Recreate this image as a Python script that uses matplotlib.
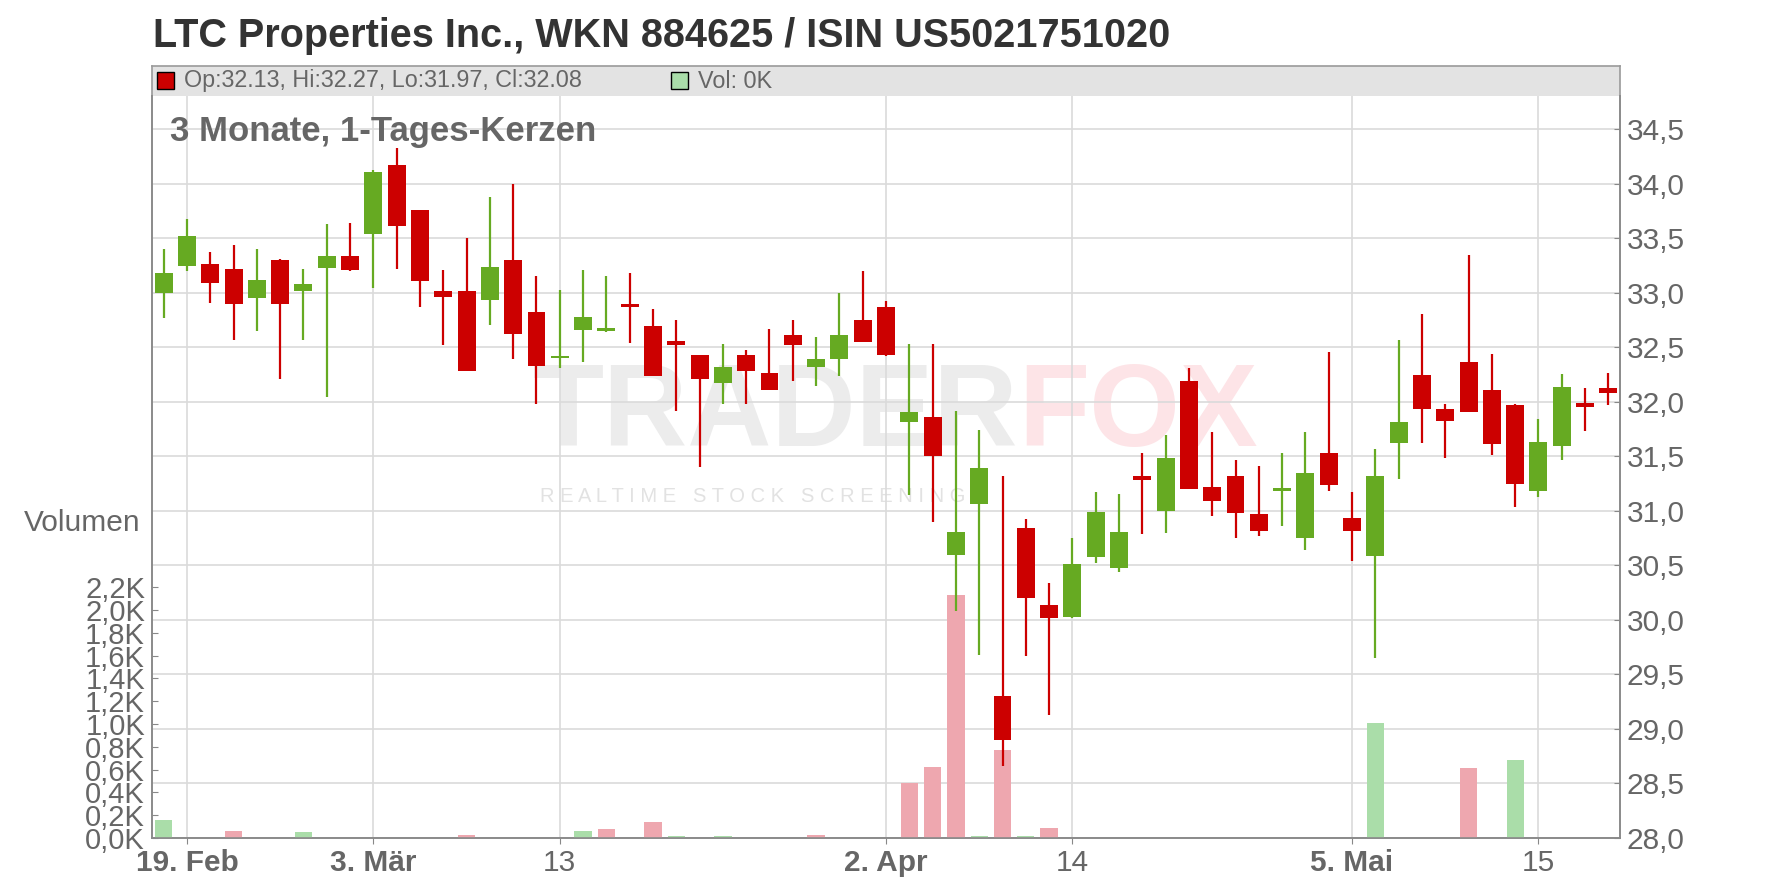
import matplotlib.pyplot as plt
import numpy as np
from matplotlib.patches import Rectangle

plt.rcParams['font.family'] = ['Liberation Sans', 'DejaVu Sans']

# daily candles (EUR), oldest first
opens = [33.00, 33.25, 33.27, 33.22, 32.95, 33.30, 33.02, 33.23, 33.34, 33.54,
         34.17, 33.76, 33.02, 33.02, 32.94, 33.30, 32.83, 32.40, 32.66, 32.65,
         32.89, 32.70, 32.56, 32.43, 32.17, 32.43, 32.27, 32.61, 32.32, 32.39,
         32.75, 32.87, 31.82, 31.86, 30.60, 31.06, 29.30, 30.84, 30.14, 30.03,
         30.58, 30.48, 31.32, 31.00, 32.19, 31.22, 31.32, 30.97, 31.18, 30.75,
         31.53, 30.94, 30.59, 31.62, 32.25, 31.94, 32.37, 32.11, 31.97, 31.18,
         31.60, 31.99, 32.13]
highs = [33.40, 33.68, 33.38, 33.44, 33.40, 33.31, 33.22, 33.63, 33.64, 34.13,
         34.33, 33.76, 33.21, 33.50, 33.88, 34.00, 33.16, 33.03, 33.21, 33.16,
         33.18, 32.85, 32.75, 32.43, 32.53, 32.48, 32.67, 32.75, 32.60, 33.00,
         33.20, 32.93, 32.53, 32.53, 31.92, 31.74, 31.32, 30.93, 30.34, 30.75,
         31.17, 31.16, 31.53, 31.70, 32.31, 31.72, 31.47, 31.41, 31.53, 31.72,
         32.46, 31.17, 31.57, 32.57, 32.81, 31.98, 33.35, 32.44, 31.98, 31.84,
         32.26, 32.13, 32.27]
lows = [32.77, 33.20, 32.91, 32.57, 32.65, 32.21, 32.57, 32.05, 33.20, 33.05,
        33.22, 32.87, 32.52, 32.28, 32.71, 32.39, 31.98, 32.31, 32.37, 32.64,
        32.54, 32.24, 31.92, 31.40, 31.98, 31.98, 32.11, 32.19, 32.15, 32.24,
        32.55, 32.42, 31.15, 30.90, 30.08, 29.68, 28.66, 29.67, 29.13, 30.02,
        30.52, 30.44, 30.79, 30.80, 31.20, 30.95, 30.75, 30.77, 30.86, 30.64,
        31.18, 30.54, 29.65, 31.29, 31.62, 31.49, 31.91, 31.51, 31.04, 31.13,
        31.47, 31.73, 31.97]
closes = [33.18, 33.52, 33.09, 32.90, 33.12, 32.90, 33.08, 33.34, 33.21, 34.11,
          33.61, 33.11, 32.96, 32.28, 33.24, 32.62, 32.33, 32.42, 32.78, 32.68,
          32.87, 32.24, 32.52, 32.21, 32.32, 32.28, 32.11, 32.52, 32.39, 32.61,
          32.55, 32.43, 31.91, 31.50, 30.81, 31.39, 28.90, 30.20, 30.02, 30.51,
          30.99, 30.81, 31.28, 31.49, 31.20, 31.09, 30.98, 30.82, 31.21, 31.35,
          31.24, 30.82, 31.32, 31.82, 31.94, 31.83, 31.91, 31.61, 31.25, 31.63,
          32.14, 31.95, 32.08]

# volume in thousand shares
volume = [0.16, 0, 0, 0.06, 0, 0, 0.05, 0, 0, 0,
          0, 0, 0, 0.03, 0, 0, 0, 0, 0.06, 0.08,
          0, 0.14, 0.02, 0, 0.02, 0, 0, 0, 0.03, 0,
          0, 0, 0.48, 0.62, 2.13, 0.02, 0.77, 0.02, 0.09, 0,
          0, 0, 0, 0, 0, 0, 0, 0, 0, 0,
          0, 0, 1.01, 0, 0, 0, 0.61, 0, 0.68, 0,
          0, 0, 0]
vol_green = [0, 6, 18, 22, 24, 35, 37, 52, 58]

tick_pos = [1, 9, 17, 31, 39, 51, 59]
tick_labels = ['19. Feb', '3. Mär', '13', '2. Apr', '14', '5. Mai', '15']
month_labels = ['19. Feb', '3. Mär', '2. Apr', '5. Mai']
price_ticks = np.arange(28, 34.51, 0.5)
vol_ticks = np.arange(0, 2.21, 0.2)

RED = '#cc0000'
GREEN = '#66aa22'
PINK = '#eea7af'
LGREEN = '#aadda9'
GRID = '#dadada'
TXT = '#666666'

W, H = 1776, 888
fig = plt.figure(figsize=(W / 100, H / 100), dpi=100)

axv = fig.add_axes([152 / W, (H - 838) / H, 1468 / W, 742 / H])
ax = axv.twinx()
axv.set_zorder(1)
ax.set_zorder(2)
ax.patch.set_visible(False)

x = np.arange(len(opens))
o = np.array(opens)
c = np.array(closes)
up = c >= o

# volume (left axis), drawn under the candles
axv.set_ylim(0, 6.51)
axv.set_xlim(-0.5, 62.5)
vcol = [LGREEN if i in vol_green else PINK for i in x]
axv.bar(x, volume, width=0.74, color=vcol, zorder=3)

# grid lines belong to the price scale but sit behind the volume bars
axv.hlines(price_ticks, 0, 1, transform=ax.get_yaxis_transform(),
           color=GRID, lw=1.2, zorder=1)
axv.vlines(tick_pos, 0, 1, transform=axv.get_xaxis_transform(),
           color=GRID, lw=1.2, zorder=1)

# watermark
wm = axv.text((533 - 152) / 1468, (838 - 470) / 742, 'TRADER', transform=axv.transAxes,
              fontsize=84, fontweight='bold', color='#ececec', va='bottom', zorder=0.5)
axv.annotate('FOX', xy=(1, 0), xycoords=wm, va='bottom', ha='left', fontsize=84,
             fontweight='bold', color='#fde4e7', zorder=0.5)
axv.text((540 - 152) / 1468, (838 - 502) / 742,
         'R E A L T I M E   S T O C K   S C R E E N I N G', transform=axv.transAxes,
         fontsize=14.5, color='#e2e2e2', va='baseline', zorder=0.5)

axv.set_yticks(vol_ticks)
axv.set_yticklabels([f'{v:.1f}K'.replace('.', ',') for v in vol_ticks])
axv.tick_params(axis='y', direction='in', length=4, color='#888888',
                labelsize=21, labelcolor=TXT, pad=5)

# candles (right axis)
ax.set_ylim(28, 34.807)
ax.vlines(x, lows, highs, color=[GREEN if u else RED for u in up], lw=1.6, zorder=3)
body = np.maximum(np.abs(c - o), 0.025)
ax.bar(x, body, bottom=np.minimum(o, c), width=0.77,
       color=[GREEN if u else RED for u in up], zorder=4)
ax.set_yticks(price_ticks)
ax.set_yticklabels([f'{p:.1f}'.replace('.', ',') for p in price_ticks])
ax.tick_params(axis='y', direction='in', length=4, color='#888888',
               labelsize=21.5, labelcolor=TXT, pad=5)

axv.set_xticks(tick_pos)
axv.set_xticklabels(tick_labels)
axv.tick_params(axis='x', direction='out', length=4, color='#888888',
                labelsize=21.5, labelcolor=TXT, pad=4)
for lab in axv.get_xticklabels():
    if lab.get_text() in month_labels:
        lab.set_fontweight('bold')

for a in (axv, ax):
    a.spines['top'].set_visible(False)
    for s in ('left', 'right', 'bottom'):
        a.spines[s].set_color('#8a8a8a')
        a.spines[s].set_linewidth(1.2)

# legend band above the plot
band = fig.add_axes([152 / W, (H - 96) / H, 1468 / W, 30 / H])
band.set_facecolor('#e3e3e3')
band.set_xlim(0, 1468)
band.set_ylim(0, 30)
band.set_xticks([])
band.set_yticks([])
for s in ('top', 'left', 'right'):
    band.spines[s].set_color('#9a9a9a')
    band.spines[s].set_linewidth(1.2)
band.spines['bottom'].set_visible(False)
band.add_patch(Rectangle((5, 7), 17, 17, facecolor=RED, edgecolor='black', lw=1))
band.text(32, 15, f'Op:{opens[-1]:.2f}, Hi:{highs[-1]:.2f}, Lo:{lows[-1]:.2f}, Cl:{closes[-1]:.2f}',
          va='center', fontsize=16.8, color=TXT)
band.add_patch(Rectangle((519, 7), 17, 17, facecolor=LGREEN, edgecolor='black', lw=1))
band.text(546, 15, f'Vol: {volume[-1]:.0f}K', va='center', fontsize=16.8, color=TXT)

fig.text(153 / W, 1 - 47 / H, 'LTC Properties Inc., WKN 884625 / ISIN US5021751020',
         fontsize=28.5, fontweight='bold', color='#333333', va='baseline')
fig.text(170 / W, 1 - 141 / H, '3 Monate, 1-Tages-Kerzen',
         fontsize=25, fontweight='bold', color=TXT, va='baseline')
fig.text(140 / W, 1 - 523 / H, 'Volumen', ha='right', va='center', fontsize=21.5, color=TXT)

fig.savefig('out.png', dpi=100, facecolor='white')
